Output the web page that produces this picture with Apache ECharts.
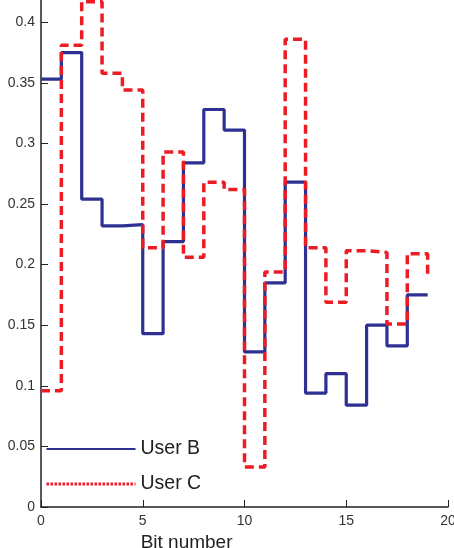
<!DOCTYPE html>
<html>
<head>
<meta charset="utf-8">
<script src="https://cdn.jsdelivr.net/npm/echarts@6/dist/echarts.min.js"></script>
<style>html,body{margin:0;padding:0;background:#fff}#c{width:454px;height:548px}</style>
</head>
<body>
<div id="c"></div>
<script>
const bits = [0,1,2,3,4,5,6,7,8,9,10,11,12,13,14,15,16,17,18,19];
const userB = [0.353,0.375,0.254,0.232,0.233,0.143,0.219,0.284,0.328,0.311,0.128,0.185,0.268,0.094,0.110,0.084,0.150,0.133,0.175,0.175];
const userC = [0.096,0.381,0.417,0.358,0.344,0.214,0.293,0.206,0.268,0.262,0.033,0.194,0.386,0.214,0.169,0.2115,0.210,0.151,0.209,0.191];
const xTickLabels = ['0','5','10','15','20'];
const yTickLabels = ['0','0.05','0.1','0.15','0.2','0.25','0.3','0.35','0.4'];
const seriesNames = ['User B','User C'];
const xAxisName = 'Bit number';

const chart = echarts.init(document.getElementById('c'), null, {renderer:'canvas'});
const font = 'Liberation Sans, Arial, Helvetica, sans-serif';
chart.setOption({
  animation:false,
  backgroundColor:'#fff',
  grid:{left:41, right:6, top:-2, bottom:41, containLabel:false, outerBoundsMode:'none'},
  xAxis:{
    type:'value', min:0, max:20, interval:5,
    name:xAxisName, nameLocation:'middle', nameGap:14,
    nameTextStyle:{fontFamily:font, fontSize:19, color:'#222', align:'right', verticalAlign:'top', padding:[0,12,0,0]},
    axisLine:{show:true, lineStyle:{color:'#222', width:1.5}},
    axisTick:{show:true, inside:true, length:7, lineStyle:{color:'#222', width:1}},
    axisLabel:{fontFamily:font, fontSize:14, color:'#333', margin:7,
      formatter:(v)=>{const i=xTickLabels.indexOf(String(v)); return i>=0?xTickLabels[i]:'';}},
    splitLine:{show:false}
  },
  yAxis:{
    type:'value', min:0, max:0.42, interval:0.05,
    axisLine:{show:true, lineStyle:{color:'#222', width:1.5}},
    axisTick:{show:true, inside:true, length:7, lineStyle:{color:'#222', width:1}},
    axisLabel:{fontFamily:font, fontSize:14, color:'#333', margin:6,
      formatter:(v)=>{const s=String(+v.toFixed(2)); return yTickLabels.indexOf(s)>=0?s:'';}},
    splitLine:{show:false}
  },
  legend:{
    show:true, orient:'vertical', left:40, top:434, itemWidth:89, itemHeight:14, itemGap:15,
    textStyle:{fontFamily:font, fontSize:19.5, color:'#222'},
    itemStyle:{opacity:0},
    data:[
      {name:seriesNames[0], itemStyle:{opacity:0}, lineStyle:{color:'#2E3192', width:2, type:'solid'}},
      {name:seriesNames[1], itemStyle:{opacity:0}, lineStyle:{color:'#ED1C24', width:3, type:[2.5,1.5]}}
    ]
  },
  series:[
    {name:seriesNames[0], type:'line', step:'end', symbol:'none', z:2,
     lineStyle:{color:'#2E3192', width:3.2},
     itemStyle:{color:'#2E3192'},
     data:bits.map((b,i)=>[b,userB[i]])},
    {name:seriesNames[1], type:'line', step:'end', symbol:'none', z:3,
     lineStyle:{color:'#ED1C24', width:3.5, type:[9,5]},
     itemStyle:{color:'#ED1C24'},
     data:bits.map((b,i)=>[b,userC[i]])}
  ]
});
</script>
</body>
</html>
